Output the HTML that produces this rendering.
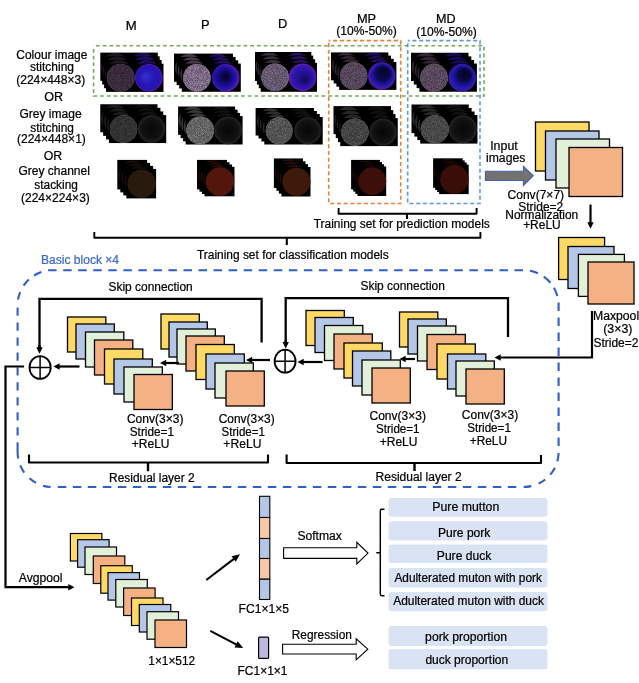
<!DOCTYPE html><html><head><meta charset="utf-8"><style>html,body{margin:0;padding:0;background:#fff;}svg{display:block;will-change:transform;}</style></head><body>
<svg width="639" height="683" viewBox="0 0 639 683" font-family='"Liberation Sans", sans-serif'>
<defs>
<radialGradient id="bM" cx="50%" cy="50%" r="50%" fx="35%" fy="45%"><stop offset="0" stop-color="#3a30c8"/><stop offset="0.55" stop-color="#2416b8"/><stop offset="0.9" stop-color="#2a14b0"/><stop offset="1" stop-color="#6a1cb0"/></radialGradient>
<radialGradient id="bP" cx="45%" cy="50%" r="50%" fx="50%" fy="45%"><stop offset="0" stop-color="#040018"/><stop offset="0.45" stop-color="#120a70"/><stop offset="0.82" stop-color="#2212b4"/><stop offset="1" stop-color="#5a1aa8"/></radialGradient>
<radialGradient id="bD" cx="50%" cy="50%" r="50%" fx="60%" fy="60%"><stop offset="0" stop-color="#140a50"/><stop offset="0.5" stop-color="#22129a"/><stop offset="0.85" stop-color="#3816b4"/><stop offset="1" stop-color="#6a20b0"/></radialGradient>
<radialGradient id="bMP" cx="50%" cy="50%" r="50%" fx="60%" fy="30%"><stop offset="0" stop-color="#060420"/><stop offset="0.5" stop-color="#0c0850"/><stop offset="0.8" stop-color="#2218a8"/><stop offset="1" stop-color="#5a1ab0"/></radialGradient>
<radialGradient id="bMD" cx="50%" cy="50%" r="50%" fx="65%" fy="30%"><stop offset="0" stop-color="#040318"/><stop offset="0.45" stop-color="#0a0848"/><stop offset="0.8" stop-color="#2018b0"/><stop offset="1" stop-color="#3a1aa8"/></radialGradient>
<radialGradient id="greyR" cx="50%" cy="50%" r="50%"><stop offset="0" stop-color="#070707"/><stop offset="0.75" stop-color="#121212"/><stop offset="0.95" stop-color="#202020"/><stop offset="1" stop-color="#2a2a2a"/></radialGradient>
<filter id="noise" x="0" y="0" width="100%" height="100%"><feTurbulence type="fractalNoise" baseFrequency="0.9" numOctaves="2" seed="3"/><feColorMatrix type="matrix" values="0 0 0 0 1  0 0 0 0 1  0 0 0 0 1  0 0 0 0.35 -0.05"/><feComposite in2="SourceGraphic" operator="in"/></filter>
<filter id="speck" x="0" y="0" width="100%" height="100%" color-interpolation-filters="sRGB"><feTurbulence type="fractalNoise" baseFrequency="1.4" numOctaves="2" seed="5" result="n"/><feColorMatrix in="n" type="matrix" values="0.55 0 0 0 0.225  0.55 0 0 0 0.225  0.55 0 0 0 0.225  0 0 0 0 1" result="g"/><feComposite in="g" in2="SourceAlpha" operator="in" result="gs"/><feBlend in="gs" in2="SourceGraphic" mode="overlay"/></filter>
</defs>
<rect width="100%" height="100%" fill="#fff"/>
<rect x="100.30" y="52.60" width="57.5" height="28.2" fill="#000"/>
<g opacity="0.55">
<circle cx="114.97" cy="66.70" r="13.80" fill="#3a2a3c"/>
<circle cx="143.12" cy="66.70" r="13.80" fill="url(#bM)"/>
</g>
<rect x="102.20" y="56.30" width="57.5" height="28.2" fill="#000"/>
<g opacity="0.55">
<circle cx="116.88" cy="70.40" r="13.80" fill="#3a2a3c"/>
<circle cx="145.02" cy="70.40" r="13.80" fill="url(#bM)"/>
</g>
<rect x="104.10" y="60.00" width="57.5" height="28.2" fill="#000"/>
<g opacity="0.55">
<circle cx="118.77" cy="74.10" r="13.80" fill="#3a2a3c"/>
<circle cx="146.92" cy="74.10" r="13.80" fill="url(#bM)"/>
</g>
<rect x="106.00" y="63.70" width="57.5" height="28.2" fill="#000"/>
<g opacity="1">
<circle cx="120.67" cy="77.80" r="13.80" fill="#3a2a3c" filter="url(#speck)"/>
<circle cx="148.82" cy="77.80" r="13.80" fill="url(#bM)"/>
</g>
<rect x="174.00" y="53.60" width="59" height="28.2" fill="#000"/>
<g opacity="0.55">
<circle cx="189.05" cy="67.70" r="13.80" fill="#7c6a84"/>
<circle cx="217.95" cy="67.70" r="13.80" fill="url(#bP)"/>
</g>
<rect x="176.60" y="56.93" width="59" height="28.2" fill="#000"/>
<g opacity="0.55">
<circle cx="191.65" cy="71.03" r="13.80" fill="#7c6a84"/>
<circle cx="220.55" cy="71.03" r="13.80" fill="url(#bP)"/>
</g>
<rect x="179.20" y="60.26" width="59" height="28.2" fill="#000"/>
<g opacity="0.55">
<circle cx="194.25" cy="74.36" r="13.80" fill="#7c6a84"/>
<circle cx="223.15" cy="74.36" r="13.80" fill="url(#bP)"/>
</g>
<rect x="181.80" y="63.59" width="59" height="28.2" fill="#000"/>
<g opacity="1">
<circle cx="196.85" cy="77.69" r="13.80" fill="#7c6a84" filter="url(#speck)"/>
<circle cx="225.75" cy="77.69" r="13.80" fill="url(#bP)"/>
</g>
<rect x="255.00" y="52.00" width="56.3" height="29" fill="#000"/>
<g opacity="0.55">
<circle cx="269.38" cy="66.50" r="13.77" fill="#665870"/>
<circle cx="296.93" cy="66.50" r="13.77" fill="url(#bD)"/>
</g>
<rect x="256.90" y="55.60" width="56.3" height="29" fill="#000"/>
<g opacity="0.55">
<circle cx="271.27" cy="70.10" r="13.77" fill="#665870"/>
<circle cx="298.82" cy="70.10" r="13.77" fill="url(#bD)"/>
</g>
<rect x="258.80" y="59.20" width="56.3" height="29" fill="#000"/>
<g opacity="0.55">
<circle cx="273.18" cy="73.70" r="13.77" fill="#665870"/>
<circle cx="300.72" cy="73.70" r="13.77" fill="url(#bD)"/>
</g>
<rect x="260.70" y="62.80" width="56.3" height="29" fill="#000"/>
<g opacity="1">
<circle cx="275.07" cy="77.30" r="13.77" fill="#665870" filter="url(#speck)"/>
<circle cx="302.62" cy="77.30" r="13.77" fill="url(#bD)"/>
</g>
<rect x="331.00" y="52.40" width="57.3" height="27.9" fill="#000"/>
<g opacity="0.55">
<circle cx="345.62" cy="66.35" r="13.65" fill="#56465a"/>
<circle cx="373.68" cy="66.35" r="13.65" fill="url(#bMP)"/>
</g>
<rect x="333.70" y="55.60" width="57.3" height="27.9" fill="#000"/>
<g opacity="0.55">
<circle cx="348.32" cy="69.55" r="13.65" fill="#56465a"/>
<circle cx="376.37" cy="69.55" r="13.65" fill="url(#bMP)"/>
</g>
<rect x="336.40" y="58.80" width="57.3" height="27.9" fill="#000"/>
<g opacity="0.55">
<circle cx="351.02" cy="72.75" r="13.65" fill="#56465a"/>
<circle cx="379.07" cy="72.75" r="13.65" fill="url(#bMP)"/>
</g>
<rect x="339.10" y="62.00" width="57.3" height="27.9" fill="#000"/>
<g opacity="1">
<circle cx="353.73" cy="75.95" r="13.65" fill="#56465a" filter="url(#speck)"/>
<circle cx="381.78" cy="75.95" r="13.65" fill="url(#bMP)"/>
</g>
<rect x="411.00" y="52.75" width="57.5" height="28.2" fill="#000"/>
<g opacity="0.55">
<circle cx="425.68" cy="66.85" r="13.80" fill="#58485c"/>
<circle cx="453.82" cy="66.85" r="13.80" fill="url(#bMD)"/>
</g>
<rect x="413.80" y="56.35" width="57.5" height="28.2" fill="#000"/>
<g opacity="0.55">
<circle cx="428.48" cy="70.45" r="13.80" fill="#58485c"/>
<circle cx="456.62" cy="70.45" r="13.80" fill="url(#bMD)"/>
</g>
<rect x="416.60" y="59.95" width="57.5" height="28.2" fill="#000"/>
<g opacity="0.55">
<circle cx="431.28" cy="74.05" r="13.80" fill="#58485c"/>
<circle cx="459.43" cy="74.05" r="13.80" fill="url(#bMD)"/>
</g>
<rect x="419.40" y="63.55" width="57.5" height="28.2" fill="#000"/>
<g opacity="1">
<circle cx="434.07" cy="77.65" r="13.80" fill="#58485c" filter="url(#speck)"/>
<circle cx="462.22" cy="77.65" r="13.80" fill="url(#bMD)"/>
</g>
<rect x="100.25" y="104.25" width="57.25" height="28" fill="#000"/>
<g opacity="0.55">
<circle cx="114.86" cy="118.25" r="13.70" fill="#323232"/>
<circle cx="142.89" cy="118.25" r="13.70" fill="url(#greyR)"/>
</g>
<rect x="103.15" y="107.85" width="57.25" height="28" fill="#000"/>
<g opacity="0.55">
<circle cx="117.76" cy="121.85" r="13.70" fill="#323232"/>
<circle cx="145.79" cy="121.85" r="13.70" fill="url(#greyR)"/>
</g>
<rect x="106.05" y="111.45" width="57.25" height="28" fill="#000"/>
<g opacity="0.55">
<circle cx="120.66" cy="125.45" r="13.70" fill="#323232"/>
<circle cx="148.69" cy="125.45" r="13.70" fill="url(#greyR)"/>
</g>
<rect x="108.95" y="115.05" width="57.25" height="28" fill="#000"/>
<g opacity="1">
<circle cx="123.56" cy="129.05" r="13.70" fill="#323232" filter="url(#speck)"/>
<circle cx="151.59" cy="129.05" r="13.70" fill="url(#greyR)"/>
</g>
<rect x="178.10" y="106.50" width="57" height="28.4" fill="#000"/>
<g opacity="0.55">
<circle cx="192.65" cy="120.70" r="13.90" fill="#646464"/>
<circle cx="220.55" cy="120.70" r="13.90" fill="url(#greyR)"/>
</g>
<rect x="180.60" y="109.70" width="57" height="28.4" fill="#000"/>
<g opacity="0.55">
<circle cx="195.15" cy="123.90" r="13.90" fill="#646464"/>
<circle cx="223.05" cy="123.90" r="13.90" fill="url(#greyR)"/>
</g>
<rect x="183.10" y="112.90" width="57" height="28.4" fill="#000"/>
<g opacity="0.55">
<circle cx="197.65" cy="127.10" r="13.90" fill="#646464"/>
<circle cx="225.55" cy="127.10" r="13.90" fill="url(#greyR)"/>
</g>
<rect x="185.60" y="116.10" width="57" height="28.4" fill="#000"/>
<g opacity="1">
<circle cx="200.15" cy="130.30" r="13.90" fill="#646464" filter="url(#speck)"/>
<circle cx="228.05" cy="130.30" r="13.90" fill="url(#greyR)"/>
</g>
<rect x="255.60" y="108.00" width="58.4" height="27.5" fill="#000"/>
<g opacity="0.55">
<circle cx="270.50" cy="121.75" r="13.45" fill="#545454"/>
<circle cx="299.10" cy="121.75" r="13.45" fill="url(#greyR)"/>
</g>
<rect x="258.50" y="111.00" width="58.4" height="27.5" fill="#000"/>
<g opacity="0.55">
<circle cx="273.40" cy="124.75" r="13.45" fill="#545454"/>
<circle cx="302.00" cy="124.75" r="13.45" fill="url(#greyR)"/>
</g>
<rect x="261.40" y="114.00" width="58.4" height="27.5" fill="#000"/>
<g opacity="0.55">
<circle cx="276.30" cy="127.75" r="13.45" fill="#545454"/>
<circle cx="304.90" cy="127.75" r="13.45" fill="url(#greyR)"/>
</g>
<rect x="264.30" y="117.00" width="58.4" height="27.5" fill="#000"/>
<g opacity="1">
<circle cx="279.20" cy="130.75" r="13.45" fill="#545454" filter="url(#speck)"/>
<circle cx="307.80" cy="130.75" r="13.45" fill="url(#greyR)"/>
</g>
<rect x="333.50" y="106.10" width="57.5" height="28" fill="#000"/>
<g opacity="0.55">
<circle cx="348.18" cy="120.10" r="13.70" fill="#444444"/>
<circle cx="376.32" cy="120.10" r="13.70" fill="url(#greyR)"/>
</g>
<rect x="335.75" y="110.10" width="57.5" height="28" fill="#000"/>
<g opacity="0.55">
<circle cx="350.43" cy="124.10" r="13.70" fill="#444444"/>
<circle cx="378.57" cy="124.10" r="13.70" fill="url(#greyR)"/>
</g>
<rect x="338.00" y="114.10" width="57.5" height="28" fill="#000"/>
<g opacity="0.55">
<circle cx="352.68" cy="128.10" r="13.70" fill="#444444"/>
<circle cx="380.82" cy="128.10" r="13.70" fill="url(#greyR)"/>
</g>
<rect x="340.25" y="118.10" width="57.5" height="28" fill="#000"/>
<g opacity="1">
<circle cx="354.93" cy="132.10" r="13.70" fill="#444444" filter="url(#speck)"/>
<circle cx="383.07" cy="132.10" r="13.70" fill="url(#greyR)"/>
</g>
<rect x="411.50" y="104.50" width="57.25" height="28.6" fill="#000"/>
<g opacity="0.55">
<circle cx="426.11" cy="118.80" r="14.00" fill="#484848"/>
<circle cx="454.14" cy="118.80" r="14.00" fill="url(#greyR)"/>
</g>
<rect x="414.40" y="108.00" width="57.25" height="28.6" fill="#000"/>
<g opacity="0.55">
<circle cx="429.01" cy="122.30" r="14.00" fill="#484848"/>
<circle cx="457.04" cy="122.30" r="14.00" fill="url(#greyR)"/>
</g>
<rect x="417.30" y="111.50" width="57.25" height="28.6" fill="#000"/>
<g opacity="0.55">
<circle cx="431.91" cy="125.80" r="14.00" fill="#484848"/>
<circle cx="459.94" cy="125.80" r="14.00" fill="url(#greyR)"/>
</g>
<rect x="420.20" y="115.00" width="57.25" height="28.6" fill="#000"/>
<g opacity="1">
<circle cx="434.81" cy="129.30" r="14.00" fill="#484848" filter="url(#speck)"/>
<circle cx="462.84" cy="129.30" r="14.00" fill="url(#greyR)"/>
</g>
<rect x="117.30" y="159.90" width="29.8" height="29.5" fill="#000"/>
<g opacity="0.55">
<circle cx="132.70" cy="174.65" r="14.25" fill="#281a0c"/>
</g>
<rect x="120.30" y="162.90" width="29.8" height="29.5" fill="#000"/>
<g opacity="0.55">
<circle cx="135.70" cy="177.65" r="14.25" fill="#281a0c"/>
</g>
<rect x="123.30" y="165.90" width="29.8" height="29.5" fill="#000"/>
<g opacity="0.55">
<circle cx="138.70" cy="180.65" r="14.25" fill="#281a0c"/>
</g>
<rect x="126.30" y="168.90" width="29.8" height="29.5" fill="#000"/>
<g opacity="1">
<circle cx="141.70" cy="183.65" r="14.25" fill="#281a0c"/>
</g>
<rect x="197.00" y="159.90" width="30" height="29.5" fill="#000"/>
<g opacity="0.55">
<circle cx="212.50" cy="174.65" r="14.25" fill="#52160c"/>
</g>
<rect x="199.50" y="162.20" width="30" height="29.5" fill="#000"/>
<g opacity="0.55">
<circle cx="215.00" cy="176.95" r="14.25" fill="#52160c"/>
</g>
<rect x="202.00" y="164.50" width="30" height="29.5" fill="#000"/>
<g opacity="0.55">
<circle cx="217.50" cy="179.25" r="14.25" fill="#52160c"/>
</g>
<rect x="204.50" y="166.80" width="30" height="29.5" fill="#000"/>
<g opacity="1">
<circle cx="220.00" cy="181.55" r="14.25" fill="#52160c"/>
</g>
<rect x="273.90" y="158.45" width="29.1" height="29.5" fill="#000"/>
<g opacity="0.55">
<circle cx="288.95" cy="173.20" r="14.05" fill="#3e1a0c"/>
</g>
<rect x="276.40" y="161.30" width="29.1" height="29.5" fill="#000"/>
<g opacity="0.55">
<circle cx="291.45" cy="176.05" r="14.05" fill="#3e1a0c"/>
</g>
<rect x="278.90" y="164.15" width="29.1" height="29.5" fill="#000"/>
<g opacity="0.55">
<circle cx="293.95" cy="178.90" r="14.05" fill="#3e1a0c"/>
</g>
<rect x="281.40" y="167.00" width="29.1" height="29.5" fill="#000"/>
<g opacity="1">
<circle cx="296.45" cy="181.75" r="14.05" fill="#3e1a0c"/>
</g>
<rect x="351.10" y="159.90" width="28.8" height="29.5" fill="#000"/>
<g opacity="0.55">
<circle cx="366.00" cy="174.65" r="13.90" fill="#3c1008"/>
</g>
<rect x="353.20" y="162.10" width="28.8" height="29.5" fill="#000"/>
<g opacity="0.55">
<circle cx="368.10" cy="176.85" r="13.90" fill="#3c1008"/>
</g>
<rect x="355.30" y="164.30" width="28.8" height="29.5" fill="#000"/>
<g opacity="0.55">
<circle cx="370.20" cy="179.05" r="13.90" fill="#3c1008"/>
</g>
<rect x="357.40" y="166.50" width="28.8" height="29.5" fill="#000"/>
<g opacity="1">
<circle cx="372.30" cy="181.25" r="13.90" fill="#3c1008"/>
</g>
<rect x="433.10" y="158.30" width="29.6" height="29.5" fill="#000"/>
<g opacity="0.55">
<circle cx="448.40" cy="173.05" r="14.25" fill="#3a0e08"/>
</g>
<rect x="435.10" y="160.40" width="29.6" height="29.5" fill="#000"/>
<g opacity="0.55">
<circle cx="450.40" cy="175.15" r="14.25" fill="#3a0e08"/>
</g>
<rect x="437.10" y="162.50" width="29.6" height="29.5" fill="#000"/>
<g opacity="0.55">
<circle cx="452.40" cy="177.25" r="14.25" fill="#3a0e08"/>
</g>
<rect x="439.10" y="164.60" width="29.6" height="29.5" fill="#000"/>
<g opacity="1">
<circle cx="454.40" cy="179.35" r="14.25" fill="#3a0e08"/>
</g>
<rect x="93.6" y="45.8" width="390.4" height="50.2" fill="none" stroke="#74a856" stroke-width="1.6" stroke-dasharray="3.7 3.007" stroke-dashoffset="4.29"/>
<rect x="328.7" y="40.6" width="72" height="162.9" fill="none" stroke="#ea7f36" stroke-width="1.6" stroke-dasharray="4 2.75" stroke-dashoffset="2.36"/>
<rect x="407.7" y="40.6" width="72.3" height="162.9" fill="none" stroke="#5b9bd5" stroke-width="1.6" stroke-dasharray="4 2.75" stroke-dashoffset="2"/>
<text x="125.8" y="30.1" font-size="12.0" fill="#000" stroke="#000" stroke-width="0.22" text-anchor="start" textLength="10.94" lengthAdjust="spacingAndGlyphs">M</text>
<text x="201.01" y="28.5" font-size="12.0" fill="#000" stroke="#000" stroke-width="0.22" text-anchor="start" textLength="8.59" lengthAdjust="spacingAndGlyphs">P</text>
<text x="278.01" y="27.8" font-size="12.0" fill="#000" stroke="#000" stroke-width="0.22" text-anchor="start" textLength="9.3" lengthAdjust="spacingAndGlyphs">D</text>
<text x="356.98" y="22.5" font-size="12.0" fill="#000" stroke="#000" stroke-width="0.22" text-anchor="start" textLength="19.16" lengthAdjust="spacingAndGlyphs">MP</text>
<text x="336.27" y="34.6" font-size="12.0" fill="#000" stroke="#000" stroke-width="0.22" text-anchor="start" textLength="60.48" lengthAdjust="spacingAndGlyphs">(10%-50%)</text>
<text x="435.99" y="22.5" font-size="12.0" fill="#000" stroke="#000" stroke-width="0.22" text-anchor="start" textLength="19.58" lengthAdjust="spacingAndGlyphs">MD</text>
<text x="416.27" y="36" font-size="12.0" fill="#000" stroke="#000" stroke-width="0.22" text-anchor="start" textLength="60.48" lengthAdjust="spacingAndGlyphs">(10%-50%)</text>
<text x="16.3" y="58.5" font-size="12.0" fill="#000" stroke="#000" stroke-width="0.22" text-anchor="start" textLength="71.11" lengthAdjust="spacingAndGlyphs">Colour image</text>
<text x="52" y="71.1" font-size="12" fill="#000" stroke="#000" stroke-width="0.22" text-anchor="middle">stitching</text>
<text x="16.18" y="83.7" font-size="12.0" fill="#000" stroke="#000" stroke-width="0.22" text-anchor="start" textLength="69.07" lengthAdjust="spacingAndGlyphs">(224×448×3)</text>
<text x="44.24" y="100.7" font-size="12.0" fill="#000" stroke="#000" stroke-width="0.22" text-anchor="start" textLength="18.83" lengthAdjust="spacingAndGlyphs">OR</text>
<text x="19.4" y="118.4" font-size="12.0" fill="#000" stroke="#000" stroke-width="0.22" text-anchor="start" textLength="62.23" lengthAdjust="spacingAndGlyphs">Grey image</text>
<text x="30.3" y="131.5" font-size="12.0" fill="#000" stroke="#000" stroke-width="0.22" text-anchor="start" textLength="43.65" lengthAdjust="spacingAndGlyphs">stitching</text>
<text x="16.98" y="142.8" font-size="12.0" fill="#000" stroke="#000" stroke-width="0.22" text-anchor="start" textLength="68.87" lengthAdjust="spacingAndGlyphs">(224×448×1)</text>
<text x="43.75" y="159.6" font-size="12.0" fill="#000" stroke="#000" stroke-width="0.22" text-anchor="start" textLength="18.4" lengthAdjust="spacingAndGlyphs">OR</text>
<text x="18.4" y="174.9" font-size="12.0" fill="#000" stroke="#000" stroke-width="0.22" text-anchor="start" textLength="71.52" lengthAdjust="spacingAndGlyphs">Grey channel</text>
<text x="34.3" y="189" font-size="12.0" fill="#000" stroke="#000" stroke-width="0.22" text-anchor="start" textLength="43.65" lengthAdjust="spacingAndGlyphs">stacking</text>
<text x="20.98" y="202.3" font-size="12.0" fill="#000" stroke="#000" stroke-width="0.22" text-anchor="start" textLength="68.87" lengthAdjust="spacingAndGlyphs">(224×224×3)</text>
<path d="M338.6,208 V213.8 H476.6 V208" fill="none" stroke="#000" stroke-width="1.9" stroke-linejoin="round"/><path d="M407,213 V219" stroke="#000" stroke-width="2.1"/>
<text x="313.76" y="227.6" font-size="12.0" fill="#000" stroke="#000" stroke-width="0.22" text-anchor="start" textLength="176.03" lengthAdjust="spacingAndGlyphs">Training set for prediction models</text>
<path d="M94.3,232 V237.8 H480.4 V232" fill="none" stroke="#000" stroke-width="1.9" stroke-linejoin="round"/><path d="M286.8,237 V245" stroke="#000" stroke-width="2.1"/>
<text x="196.96" y="258.8" font-size="12.0" fill="#000" stroke="#000" stroke-width="0.22" text-anchor="start" textLength="191.77" lengthAdjust="spacingAndGlyphs">Training set for classification models</text>
<polygon points="485.4,171.2 523.4,171.2 523.4,166.3 533.3,175.8 523.4,185.5 523.4,180.5 485.4,180.5" fill="#767171" stroke="#3f63ab" stroke-width="1.1"/>
<text x="490.19" y="150" font-size="12.0" fill="#000" stroke="#000" stroke-width="0.22" text-anchor="start" textLength="27.53" lengthAdjust="spacingAndGlyphs">Input</text>
<text x="486.01" y="161.8" font-size="12.0" fill="#000" stroke="#000" stroke-width="0.22" text-anchor="start" textLength="39.3" lengthAdjust="spacingAndGlyphs">images</text>
<rect x="535.5" y="122" width="53.5" height="49" fill="#ffd966" stroke="#000" stroke-width="1.3"/>
<rect x="545.5" y="131" width="53.5" height="49" fill="#b4c7e7" stroke="#000" stroke-width="1.3"/>
<rect x="556" y="139" width="53.5" height="49" fill="#e2f0d9" stroke="#000" stroke-width="1.3"/>
<rect x="569" y="147.5" width="53.5" height="49" fill="#f4b183" stroke="#000" stroke-width="1.3"/>
<text x="507.5" y="199.2" font-size="12.0" fill="#000" stroke="#000" stroke-width="0.22" text-anchor="start" textLength="56.65" lengthAdjust="spacingAndGlyphs">Conv(7×7)</text>
<text x="518.26" y="210.6" font-size="12.0" fill="#000" stroke="#000" stroke-width="0.22" text-anchor="start" textLength="44.97" lengthAdjust="spacingAndGlyphs">Stride=2</text>
<text x="505.35" y="219.2" font-size="12.0" fill="#000" stroke="#000" stroke-width="0.22" text-anchor="start" textLength="72.91" lengthAdjust="spacingAndGlyphs">Normalization</text>
<text x="523.15" y="229.2" font-size="12.0" fill="#000" stroke="#000" stroke-width="0.22" text-anchor="start" textLength="37.5" lengthAdjust="spacingAndGlyphs">+ReLU</text>
<line x1="590.5" y1="204.6" x2="590.5" y2="223.60000000000002" stroke="#000" stroke-width="2.2"/>
<polygon points="590.5,228.8 587.3,222.3 593.7,222.3" fill="#000"/>
<rect x="558.6" y="237.5" width="46" height="42" fill="#ffd966" stroke="#000" stroke-width="1.3"/>
<rect x="568" y="246.5" width="46" height="42" fill="#b4c7e7" stroke="#000" stroke-width="1.3"/>
<rect x="578.4" y="254.4" width="46" height="42" fill="#e2f0d9" stroke="#000" stroke-width="1.3"/>
<rect x="588" y="262" width="46" height="42" fill="#f4b183" stroke="#000" stroke-width="1.3"/>
<text x="593.03" y="320.1" font-size="12.0" fill="#000" stroke="#000" stroke-width="0.22" text-anchor="start" textLength="46.07" lengthAdjust="spacingAndGlyphs">Maxpool</text>
<text x="603.26" y="333.3" font-size="12.0" fill="#000" stroke="#000" stroke-width="0.22" text-anchor="start" textLength="29.21" lengthAdjust="spacingAndGlyphs">(3×3)</text>
<text x="593.46" y="347.1" font-size="12.0" fill="#000" stroke="#000" stroke-width="0.22" text-anchor="start" textLength="44.97" lengthAdjust="spacingAndGlyphs">Stride=2</text>
<path d="M48.10,270.25L56.60,270.25M63.15,270.25L71.65,270.25M78.19,270.25L86.69,270.25M93.23,270.25L101.73,270.25M108.28,270.25L116.78,270.25M123.32,270.25L131.82,270.25M138.37,270.25L146.87,270.25M153.41,270.25L161.91,270.25M168.46,270.25L176.96,270.25M183.50,270.25L192.00,270.25M198.55,270.25L207.05,270.25M213.59,270.25L222.09,270.25M228.64,270.25L237.14,270.25M243.69,270.25L252.19,270.25M258.73,270.25L267.23,270.25M273.78,270.25L282.28,270.25M288.82,270.25L297.32,270.25M303.87,270.25L312.37,270.25M318.91,270.25L327.41,270.25M333.96,270.25L342.46,270.25M349.00,270.25L357.50,270.25M364.05,270.25L372.55,270.25M379.09,270.25L387.59,270.25M394.14,270.25L402.64,270.25M409.18,270.25L417.68,270.25M424.23,270.25L432.73,270.25M439.27,270.25L447.77,270.25M454.31,270.25L462.81,270.25M469.36,270.25L477.86,270.25M484.41,270.25L492.91,270.25M499.45,270.25L507.95,270.25M514.50,270.25L523.00,270.25M558.60,302.50L558.60,311.00M558.60,317.50L558.60,326.00M558.60,332.50L558.60,341.00M558.60,347.50L558.60,356.00M558.60,362.50L558.60,371.00M558.60,377.50L558.60,386.00M558.60,392.50L558.60,401.00M558.60,407.50L558.60,416.00M558.60,422.50L558.60,431.00M558.60,437.50L558.60,446.00M57.80,487.00L66.30,487.00M72.80,487.00L81.30,487.00M87.80,487.00L96.30,487.00M102.80,487.00L111.30,487.00M117.80,487.00L126.30,487.00M132.80,487.00L141.30,487.00M147.80,487.00L156.30,487.00M162.80,487.00L171.30,487.00M177.80,487.00L186.30,487.00M192.80,487.00L201.30,487.00M207.80,487.00L216.30,487.00M222.80,487.00L231.30,487.00M237.80,487.00L246.30,487.00M252.80,487.00L261.30,487.00M267.80,487.00L276.30,487.00M282.80,487.00L291.30,487.00M297.80,487.00L306.30,487.00M312.80,487.00L321.30,487.00M327.80,487.00L336.30,487.00M342.80,487.00L351.30,487.00M357.80,487.00L366.30,487.00M372.80,487.00L381.30,487.00M387.80,487.00L396.30,487.00M402.80,487.00L411.30,487.00M417.80,487.00L426.30,487.00M432.80,487.00L441.30,487.00M447.80,487.00L456.30,487.00M462.80,487.00L471.30,487.00M477.80,487.00L486.30,487.00M492.80,487.00L501.30,487.00M507.80,487.00L516.30,487.00M17.60,307.60L17.60,315.80M17.60,322.55L17.60,330.75M17.60,337.50L17.60,345.70M17.60,352.45L17.60,360.65M17.60,367.40L17.60,375.60M17.60,382.35L17.60,390.55M17.60,397.30L17.60,405.50M17.60,412.25L17.60,420.45M17.60,427.20L17.60,435.40M17.6,442.15L17.6,452M17.60,452.00A35,35 0 0 0 18.21,458.50M18.06,299.59A35,35 0 0 1 20.16,292.12M23.58,285.68A35,35 0 0 1 28.85,279.54M34.15,275.50A35,35 0 0 1 41.40,272.09M530.01,270.84A35,35 0 0 1 537.82,273.27M543.76,276.64A35,35 0 0 1 550.40,282.74M553.92,287.76A35,35 0 0 1 557.35,295.99M558.58,453.03A35,35 0 0 1 557.32,461.37M554.88,467.69A35,35 0 0 1 550.28,474.66M545.22,479.52A35,35 0 0 1 538.51,483.66M531.33,486.14A35,35 0 0 1 523.70,487.00M20.27,465.41A35,35 0 0 0 24.26,472.54M29.46,478.26A35,35 0 0 0 36.08,482.85M42.96,485.65A35,35 0 0 0 50.60,486.94" fill="none" stroke="#2f5fc8" stroke-width="2.1" stroke-linecap="butt"/>
<text x="41.04" y="263.6" font-size="12.0" fill="#3a68c8" stroke="#3a68c8" stroke-width="0.22" text-anchor="start" textLength="78.02" lengthAdjust="spacingAndGlyphs">Basic block ×4</text>
<rect x="67.5" y="317" width="38.3" height="35" fill="#ffd966" stroke="#000" stroke-width="1.3"/>
<rect x="76" y="324" width="38.3" height="35" fill="#b4c7e7" stroke="#000" stroke-width="1.3"/>
<rect x="85.5" y="332" width="38.3" height="35" fill="#e2f0d9" stroke="#000" stroke-width="1.3"/>
<rect x="94.5" y="340" width="38.3" height="35" fill="#f4b183" stroke="#000" stroke-width="1.3"/>
<rect x="104.5" y="349" width="38.3" height="35" fill="#ffd966" stroke="#000" stroke-width="1.3"/>
<rect x="114" y="359" width="38.3" height="35" fill="#b4c7e7" stroke="#000" stroke-width="1.3"/>
<rect x="124" y="367" width="38.3" height="35" fill="#e2f0d9" stroke="#000" stroke-width="1.3"/>
<rect x="134" y="374.5" width="38.3" height="35" fill="#f4b183" stroke="#000" stroke-width="1.3"/>
<rect x="161" y="314" width="38.3" height="35" fill="#ffd966" stroke="#000" stroke-width="1.3"/>
<rect x="169" y="322" width="38.3" height="35" fill="#b4c7e7" stroke="#000" stroke-width="1.3"/>
<rect x="177" y="329" width="38.3" height="35" fill="#e2f0d9" stroke="#000" stroke-width="1.3"/>
<rect x="186" y="336" width="38.3" height="35" fill="#f4b183" stroke="#000" stroke-width="1.3"/>
<rect x="196" y="344.5" width="38.3" height="35" fill="#ffd966" stroke="#000" stroke-width="1.3"/>
<rect x="206" y="354" width="38.3" height="35" fill="#b4c7e7" stroke="#000" stroke-width="1.3"/>
<rect x="215" y="363" width="38.3" height="35" fill="#e2f0d9" stroke="#000" stroke-width="1.3"/>
<rect x="226" y="371" width="38.3" height="35" fill="#f4b183" stroke="#000" stroke-width="1.3"/>
<rect x="306" y="310.5" width="38.3" height="35" fill="#ffd966" stroke="#000" stroke-width="1.3"/>
<rect x="315" y="317.5" width="38.3" height="35" fill="#b4c7e7" stroke="#000" stroke-width="1.3"/>
<rect x="324.5" y="325.5" width="38.3" height="35" fill="#e2f0d9" stroke="#000" stroke-width="1.3"/>
<rect x="334" y="334" width="38.3" height="35" fill="#f4b183" stroke="#000" stroke-width="1.3"/>
<rect x="344" y="343" width="38.3" height="35" fill="#ffd966" stroke="#000" stroke-width="1.3"/>
<rect x="352.5" y="351" width="38.3" height="35" fill="#b4c7e7" stroke="#000" stroke-width="1.3"/>
<rect x="362" y="360" width="38.3" height="35" fill="#e2f0d9" stroke="#000" stroke-width="1.3"/>
<rect x="372" y="368" width="38.3" height="35" fill="#f4b183" stroke="#000" stroke-width="1.3"/>
<rect x="399.5" y="312" width="38.3" height="35" fill="#ffd966" stroke="#000" stroke-width="1.3"/>
<rect x="408" y="319" width="38.3" height="35" fill="#b4c7e7" stroke="#000" stroke-width="1.3"/>
<rect x="417.5" y="326" width="38.3" height="35" fill="#e2f0d9" stroke="#000" stroke-width="1.3"/>
<rect x="427" y="334.5" width="38.3" height="35" fill="#f4b183" stroke="#000" stroke-width="1.3"/>
<rect x="437" y="344" width="38.3" height="35" fill="#ffd966" stroke="#000" stroke-width="1.3"/>
<rect x="447.5" y="354" width="38.3" height="35" fill="#b4c7e7" stroke="#000" stroke-width="1.3"/>
<rect x="456" y="361" width="38.3" height="35" fill="#e2f0d9" stroke="#000" stroke-width="1.3"/>
<rect x="466" y="369" width="38.3" height="35" fill="#f4b183" stroke="#000" stroke-width="1.3"/>
<path d="M592,311 V357.5 H500" fill="none" stroke="#000" stroke-width="2.2"/>
<line x1="500" y1="357.5" x2="499.46" y2="357.5" stroke="#000" stroke-width="2.2"/>
<polygon points="494.5,357.5 500.7,354.2 500.7,360.8" fill="#000"/>
<path d="M508,337 V298.2 H285.7 V342" fill="none" stroke="#000" stroke-width="2.3"/>
<line x1="285.7" y1="340" x2="285.7" y2="343.3" stroke="#000" stroke-width="2.3"/>
<polygon points="285.7,348.5 282.5,342.0 288.9,342.0" fill="#000"/>
<ellipse cx="285.1" cy="361.2" rx="10.5" ry="11.5" fill="#fff" stroke="#000" stroke-width="1.8"/>
<path d="M274.6,361.2 H295.6 M285.1,349.7 V372.7" stroke="#000" stroke-width="1.5"/>
<line x1="322.5" y1="362" x2="302.46" y2="362" stroke="#000" stroke-width="2.2"/>
<polygon points="297.5,362 303.7,358.7 303.7,365.3" fill="#000"/>
<line x1="415" y1="359" x2="404.46" y2="359" stroke="#000" stroke-width="2.2"/>
<polygon points="399.5,359 405.7,355.7 405.7,362.3" fill="#000"/>
<line x1="270" y1="360" x2="250.96" y2="360" stroke="#000" stroke-width="2.2"/>
<polygon points="246,360 252.2,356.7 252.2,363.3" fill="#000"/>
<path d="M261.6,342.5 V298.9 H39.5 V348" fill="none" stroke="#000" stroke-width="2.3"/>
<line x1="39.5" y1="345" x2="39.5" y2="348.6" stroke="#000" stroke-width="2.3"/>
<polygon points="39.5,353.8 36.3,347.3 42.7,347.3" fill="#000"/>
<ellipse cx="40.1" cy="367.5" rx="10.6" ry="11.4" fill="#fff" stroke="#000" stroke-width="1.8"/>
<path d="M29.5,367.5 H50.7 M40.1,356.1 V378.9" stroke="#000" stroke-width="1.5"/>
<line x1="179" y1="363" x2="164.96" y2="363" stroke="#000" stroke-width="2.2"/>
<polygon points="160,363 166.2,359.7 166.2,366.3" fill="#000"/>
<line x1="79.5" y1="366.5" x2="58.36" y2="366.5" stroke="#000" stroke-width="2.2"/>
<polygon points="53.4,366.5 59.6,363.2 59.6,369.8" fill="#000"/>
<path d="M24.1,366.5 H5.5 V587.2 H70" fill="none" stroke="#000" stroke-width="2.2"/>
<line x1="68" y1="587.2" x2="69.53999999999999" y2="587.2" stroke="#000" stroke-width="2.2"/>
<polygon points="74.5,587.2 68.3,583.9000000000001 68.3,590.5" fill="#000"/>
<text x="108.56" y="290.7" font-size="12.0" fill="#000" stroke="#000" stroke-width="0.22" text-anchor="start" textLength="84.15" lengthAdjust="spacingAndGlyphs">Skip connection</text>
<text x="360.46" y="290.3" font-size="12.0" fill="#000" stroke="#000" stroke-width="0.22" text-anchor="start" textLength="84.46" lengthAdjust="spacingAndGlyphs">Skip connection</text>
<text x="126.9" y="422.5" font-size="12.0" fill="#000" stroke="#000" stroke-width="0.22" text-anchor="start" textLength="56.55" lengthAdjust="spacingAndGlyphs">Conv(3×3)</text>
<text x="129.77" y="435.8" font-size="12.0" fill="#000" stroke="#000" stroke-width="0.22" text-anchor="start" textLength="44.19" lengthAdjust="spacingAndGlyphs">Stride=1</text>
<text x="131.8" y="447.9" font-size="12.0" fill="#000" stroke="#000" stroke-width="0.22" text-anchor="start" textLength="37.71" lengthAdjust="spacingAndGlyphs">+ReLU</text>
<text x="218.7" y="422.5" font-size="12.0" fill="#000" stroke="#000" stroke-width="0.22" text-anchor="start" textLength="56.04" lengthAdjust="spacingAndGlyphs">Conv(3×3)</text>
<text x="221.58" y="435.8" font-size="12.0" fill="#000" stroke="#000" stroke-width="0.22" text-anchor="start" textLength="43.37" lengthAdjust="spacingAndGlyphs">Stride=1</text>
<text x="223.39" y="447.9" font-size="12.0" fill="#000" stroke="#000" stroke-width="0.22" text-anchor="start" textLength="38.02" lengthAdjust="spacingAndGlyphs">+ReLU</text>
<text x="369.5" y="420" font-size="12.0" fill="#000" stroke="#000" stroke-width="0.22" text-anchor="start" textLength="56.45" lengthAdjust="spacingAndGlyphs">Conv(3×3)</text>
<text x="375.98" y="433.2" font-size="12.0" fill="#000" stroke="#000" stroke-width="0.22" text-anchor="start" textLength="43.58" lengthAdjust="spacingAndGlyphs">Stride=1</text>
<text x="379.7" y="445.8" font-size="12.0" fill="#000" stroke="#000" stroke-width="0.22" text-anchor="start" textLength="37.81" lengthAdjust="spacingAndGlyphs">+ReLU</text>
<text x="461.8" y="418.6" font-size="12.0" fill="#000" stroke="#000" stroke-width="0.22" text-anchor="start" textLength="56.34" lengthAdjust="spacingAndGlyphs">Conv(3×3)</text>
<text x="467.18" y="431.9" font-size="12.0" fill="#000" stroke="#000" stroke-width="0.22" text-anchor="start" textLength="43.68" lengthAdjust="spacingAndGlyphs">Stride=1</text>
<text x="469.81" y="444.5" font-size="12.0" fill="#000" stroke="#000" stroke-width="0.22" text-anchor="start" textLength="37.19" lengthAdjust="spacingAndGlyphs">+ReLU</text>
<path d="M29,454.5 V462.5 H268 V454.5" fill="none" stroke="#000" stroke-width="2.1" stroke-linejoin="round"/><path d="M148,462 V471.2" stroke="#000" stroke-width="2.4"/>
<path d="M286.6,454.5 V463 H541 V455" fill="none" stroke="#000" stroke-width="2.1" stroke-linejoin="round"/><path d="M414.5,462.5 V471" stroke="#000" stroke-width="2.4"/>
<text x="109.05" y="481.7" font-size="12.0" fill="#000" stroke="#000" stroke-width="0.22" text-anchor="start" textLength="85.56" lengthAdjust="spacingAndGlyphs">Residual layer 2</text>
<text x="375.54" y="481.1" font-size="12.0" fill="#000" stroke="#000" stroke-width="0.22" text-anchor="start" textLength="86.07" lengthAdjust="spacingAndGlyphs">Residual layer 2</text>
<rect x="70.4" y="533.5" width="31.5" height="27.5" fill="#ffd966" stroke="#000" stroke-width="1.2"/>
<rect x="77.6" y="539.7" width="31.5" height="27.5" fill="#b4c7e7" stroke="#000" stroke-width="1.2"/>
<rect x="85" y="547" width="31.5" height="27.5" fill="#e2f0d9" stroke="#000" stroke-width="1.2"/>
<rect x="93.3" y="556" width="31.5" height="27.5" fill="#f4b183" stroke="#000" stroke-width="1.2"/>
<rect x="100.8" y="565.7" width="31.5" height="27.5" fill="#ffd966" stroke="#000" stroke-width="1.2"/>
<rect x="108" y="572.6" width="31.5" height="27.5" fill="#b4c7e7" stroke="#000" stroke-width="1.2"/>
<rect x="115.8" y="579.5" width="31.5" height="27.5" fill="#e2f0d9" stroke="#000" stroke-width="1.2"/>
<rect x="123.6" y="588" width="31.5" height="27.5" fill="#f4b183" stroke="#000" stroke-width="1.2"/>
<rect x="131.5" y="598" width="31.5" height="27.5" fill="#ffd966" stroke="#000" stroke-width="1.2"/>
<rect x="139.3" y="604.5" width="31.5" height="27.5" fill="#b4c7e7" stroke="#000" stroke-width="1.2"/>
<rect x="147" y="611.7" width="31.5" height="27.5" fill="#e2f0d9" stroke="#000" stroke-width="1.2"/>
<rect x="155" y="620" width="31.5" height="27.5" fill="#f4b183" stroke="#000" stroke-width="1.2"/>
<text x="18.8" y="581.8" font-size="12.0" fill="#000" stroke="#000" stroke-width="0.22" text-anchor="start" textLength="43.7" lengthAdjust="spacingAndGlyphs">Avgpool</text>
<text x="148.31" y="665" font-size="12.0" fill="#000" stroke="#000" stroke-width="0.22" text-anchor="start" textLength="46.77" lengthAdjust="spacingAndGlyphs">1×1×512</text>
<line x1="206.3" y1="580" x2="234.92" y2="558.09" stroke="#000" stroke-width="2"/>
<polygon points="240,554.2 235.78,561.84 231.52,556.28" fill="#000"/>
<line x1="210.3" y1="630.8" x2="237.53" y2="645.03" stroke="#000" stroke-width="2"/>
<polygon points="243.2,648 234.49,647.40 237.73,641.19" fill="#000"/>
<rect x="259.5" y="496.3" width="10.3" height="21.2" fill="#b4c7e7" stroke="#000" stroke-width="1.1"/>
<rect x="259.5" y="517.5" width="10.3" height="21.0" fill="#f8c9a6" stroke="#000" stroke-width="1.1"/>
<rect x="259.5" y="538.5" width="10.3" height="20.0" fill="#b4c7e7" stroke="#000" stroke-width="1.1"/>
<rect x="259.5" y="558.5" width="10.3" height="20.7" fill="#f8c9a6" stroke="#000" stroke-width="1.1"/>
<rect x="259.5" y="579.2" width="10.3" height="20.3" fill="#b4c7e7" stroke="#000" stroke-width="1.1"/>
<text x="238.53" y="613.4" font-size="12.0" fill="#000" stroke="#000" stroke-width="0.22" text-anchor="start" textLength="50.55" lengthAdjust="spacingAndGlyphs">FC1×1×5</text>
<rect x="258.6" y="637.2" width="10" height="21.2" rx="1" fill="#bdb8e0" stroke="#000" stroke-width="1.2"/>
<text x="237.54" y="674.8" font-size="12.0" fill="#000" stroke="#000" stroke-width="0.22" text-anchor="start" textLength="49.99" lengthAdjust="spacingAndGlyphs">FC1×1×1</text>
<polygon points="283.6,547.8 356.8,547.8 356.8,542.3 368,553.1 356.8,564 356.8,558.4 283.6,558.4" fill="#fff" stroke="#000" stroke-width="1.1"/>
<text x="297.45" y="540" font-size="12.0" fill="#000" stroke="#000" stroke-width="0.22" text-anchor="start" textLength="44.44" lengthAdjust="spacingAndGlyphs">Softmax</text>
<polygon points="282.6,644.2 356.2,644.2 356.2,638.8 367.8,649.2 356.2,659.8 356.2,654 282.6,654" fill="#fff" stroke="#000" stroke-width="1.1"/>
<text x="291.75" y="638.7" font-size="12.0" fill="#000" stroke="#000" stroke-width="0.22" text-anchor="start" textLength="60.21" lengthAdjust="spacingAndGlyphs">Regression</text>
<path d="M384.5,509.3 H382 Q380.3,509.3 380.3,511 V594 Q380.3,595.7 382,595.7 H384.5 M380.3,552.7 H376.3" fill="none" stroke="#000" stroke-width="1.45"/>
<rect x="388.5" y="498" width="159" height="18.8" rx="3" fill="#dae3f3"/>
<text x="432.32" y="510.8" font-size="12.0" fill="#000" stroke="#000" stroke-width="0.22" text-anchor="start" textLength="66.95" lengthAdjust="spacingAndGlyphs">Pure mutton</text>
<rect x="388.5" y="521.2" width="159" height="19.3" rx="3" fill="#dae3f3"/>
<text x="438.03" y="537" font-size="12.0" fill="#000" stroke="#000" stroke-width="0.22" text-anchor="start" textLength="52.37" lengthAdjust="spacingAndGlyphs">Pure pork</text>
<rect x="388.5" y="544.4" width="159" height="18.5" rx="3" fill="#dae3f3"/>
<text x="436.83" y="559.9" font-size="12.0" fill="#000" stroke="#000" stroke-width="0.22" text-anchor="start" textLength="54.44" lengthAdjust="spacingAndGlyphs">Pure duck</text>
<rect x="388.5" y="567.9" width="159" height="19.6" rx="3" fill="#dae3f3"/>
<text x="394.4" y="581.6" font-size="12.0" fill="#000" stroke="#000" stroke-width="0.22" text-anchor="start" textLength="147.52" lengthAdjust="spacingAndGlyphs">Adulterated muton with pork</text>
<rect x="388.5" y="591.9" width="159" height="19.3" rx="3" fill="#dae3f3"/>
<text x="393.2" y="605.3" font-size="12.0" fill="#000" stroke="#000" stroke-width="0.22" text-anchor="start" textLength="150.78" lengthAdjust="spacingAndGlyphs">Adulterated muton with duck</text>
<rect x="388.5" y="626" width="159" height="20.0" rx="3" fill="#dae3f3"/>
<text x="425.11" y="641" font-size="12.0" fill="#000" stroke="#000" stroke-width="0.22" text-anchor="start" textLength="81.84" lengthAdjust="spacingAndGlyphs">pork proportion</text>
<rect x="388.5" y="649" width="159" height="20.2" rx="3" fill="#dae3f3"/>
<text x="425.42" y="663.8" font-size="12.0" fill="#000" stroke="#000" stroke-width="0.22" text-anchor="start" textLength="82.74" lengthAdjust="spacingAndGlyphs">duck proportion</text>
</svg></body></html>
